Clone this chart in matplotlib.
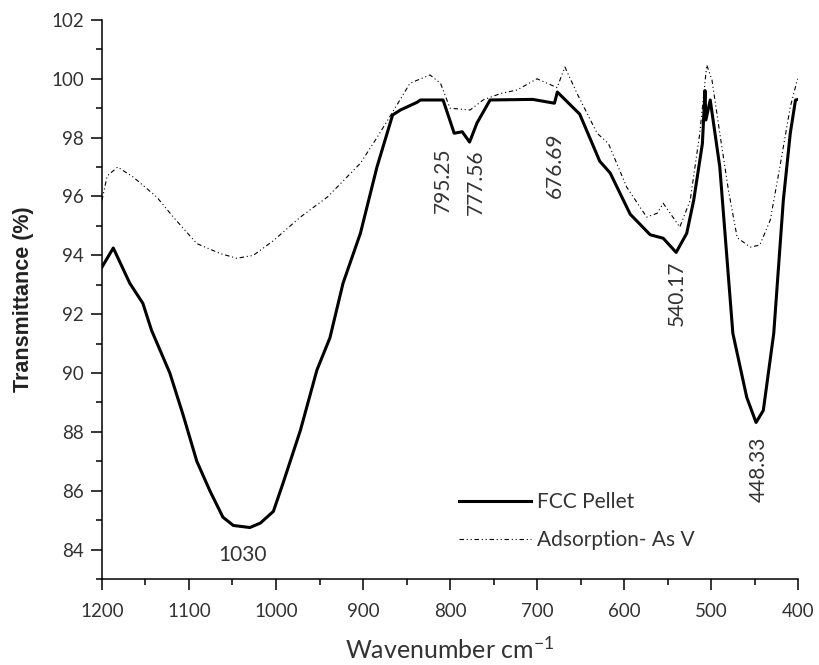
import matplotlib
matplotlib.use("Agg")
import matplotlib.pyplot as plt
from matplotlib.ticker import MultipleLocator

plt.rcParams["mathtext.fontset"] = "custom"
plt.rcParams["mathtext.rm"] = "Lato"
plt.rcParams["mathtext.it"] = "Lato"

# FTIR spectra (wavenumber in cm^-1, transmittance in %)
fcc_wn = [1200, 1187, 1168, 1153, 1143, 1122, 1107, 1091, 1076, 1061, 1049, 1030,
          1018, 1003, 992, 972, 953, 938, 923, 903, 884, 866, 857, 838, 834, 808,
          795.25, 786, 777.56, 769, 754, 705, 680, 676.69, 651, 628, 616, 593, 570,
          555, 540.17, 528, 520, 510, 507, 506, 501, 490, 475, 459, 448.33, 440,
          428, 417, 409, 403, 400]
fcc_t = [93.6, 94.25, 93.05, 92.37, 91.45, 90.0, 88.6, 87.0, 86.0, 85.1, 84.82, 84.75,
         84.9, 85.3, 86.25, 88.05, 90.1, 91.2, 93.05, 94.75, 97.0, 98.77, 98.94, 99.2,
         99.28, 99.28, 98.15, 98.2, 97.85, 98.5, 99.28, 99.3, 99.17, 99.55, 98.8, 97.2,
         96.8, 95.4, 94.7, 94.58, 94.1, 94.75, 95.87, 97.8, 99.6, 98.6, 99.28, 97.0,
         91.35, 89.17, 88.32, 88.73, 91.35, 95.87, 98.15, 99.28, 99.3]

ads_wn = [1200, 1194, 1182, 1164, 1137, 1118, 1091, 1064, 1045, 1026, 1003, 972, 941,
          903, 884, 866, 846, 823, 811, 800, 777, 762, 742, 723, 700, 677, 668, 654,
          631, 618, 597, 574, 562, 555, 547, 536, 524, 513, 505, 499, 490, 480, 470,
          455, 444, 432, 421, 409, 401, 400]
ads_t = [95.87, 96.7, 97.0, 96.66, 95.98, 95.3, 94.4, 94.06, 93.9, 94.0, 94.5, 95.3,
         95.98, 97.13, 98.0, 98.87, 99.85, 100.13, 99.85, 99.0, 98.94, 99.28, 99.5,
         99.62, 100.0, 99.7, 100.4, 99.5, 98.15, 97.8, 96.32, 95.3, 95.43, 95.77, 95.43,
         94.96, 95.87, 98.15, 100.47, 99.96, 98.15, 96.2, 94.6, 94.28, 94.35, 95.2, 97.0,
         99.04, 99.96, 100.0]

peak_labels = ["795.25", "777.56", "676.69", "540.17", "448.33"]
peak_label_x = [808, 770, 679, 539, 445]
peak_label_y = [96.55, 96.5, 97.07, 92.7, 86.72]

min_label = "1030"
min_label_xy = (1039, 83.8)

series_names = ["FCC Pellet", "Adsorption- As V"]

TEXT = "#333333"

fig = plt.figure(figsize=(8.19, 6.65), dpi=100)
ax = fig.add_axes([0.1245, 0.1293, 0.850, 0.8407])

ax.plot(fcc_wn, fcc_t, color="black", lw=2.2, label=series_names[0],
        solid_joinstyle="round")
ax.plot(ads_wn, ads_t, color="black", lw=0.8, label=series_names[1],
        dashes=(4, 2.5, 1, 2.5, 1, 2.5))

ax.set_xlim(1200, 400)
ax.set_ylim(83, 102)
ax.xaxis.set_major_locator(MultipleLocator(100))
ax.xaxis.set_minor_locator(MultipleLocator(50))
ax.yaxis.set_minor_locator(MultipleLocator(1))
ax.set_yticks(range(84, 103, 2))

for side in ("top", "right"):
    ax.spines[side].set_visible(False)
for side in ("left", "bottom"):
    ax.spines[side].set_linewidth(1.1)

ax.tick_params(which="major", direction="out", length=8, width=1.1,
               labelsize=13.5, pad=5)
ax.tick_params(axis="x", which="major", pad=9)
ax.tick_params(which="minor", direction="out", length=4, width=1.1)
for lab in ax.get_xticklabels() + ax.get_yticklabels():
    lab.set_family("Lato")
    lab.set_color(TEXT)

ax.set_ylabel("Transmittance (%)", fontsize=15.5, family="Liberation Sans",
              fontweight="bold", color="#222222", labelpad=12)
ax.set_xlabel("Wavenumber cm$^{-1}$", fontsize=18, family="Lato",
              color=TEXT, labelpad=12)

for txt, x, y in zip(peak_labels, peak_label_x, peak_label_y):
    ax.text(x, y, txt, rotation=90, ha="center", va="center", fontsize=15,
            family="Lato", color=TEXT)
ax.text(min_label_xy[0], min_label_xy[1], min_label, ha="center", va="center",
        fontsize=15, family="Lato", color=TEXT)

leg = ax.legend(loc="upper left", bbox_to_anchor=(0.513, 0.155), frameon=False,
                handlelength=3.45, handletextpad=0.3, labelspacing=0.85,
                borderpad=0, borderaxespad=0,
                prop={"family": "Lato", "size": 15})
for t in leg.get_texts():
    t.set_color(TEXT)

fig.savefig("out.png", dpi=100)
